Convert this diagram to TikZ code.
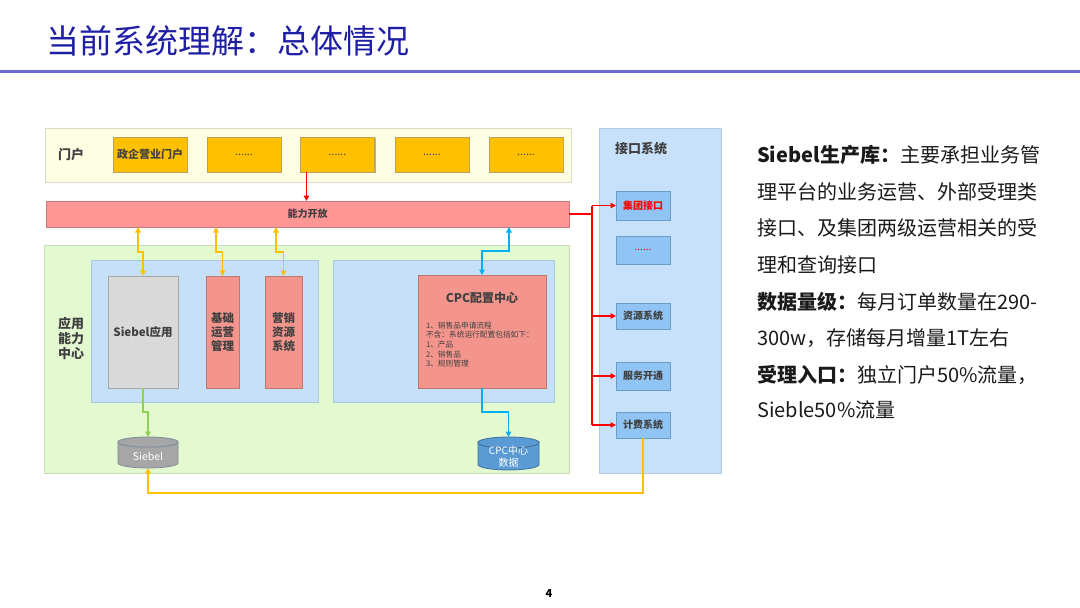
\documentclass[tikz,border=0pt]{standalone}
\usepackage{fontspec}
\setmainfont{Noto Sans CJK SC}
\usetikzlibrary{arrows.meta,shadows}
\definecolor{titleblue}{HTML}{1F1FA5}
\definecolor{ruleblue}{HTML}{6A6AD2}
\definecolor{portalbg}{HTML}{FEFEE2}
\definecolor{portalbd}{HTML}{DADAC8}
\definecolor{gold}{HTML}{FFC000}
\definecolor{goldbd}{HTML}{B8A060}
\definecolor{barfill}{HTML}{FF9696}
\definecolor{barbd}{HTML}{C87878}
\definecolor{ifbg}{HTML}{C8E1FA}
\definecolor{ifbd}{HTML}{AFCBE6}
\definecolor{ifbox}{HTML}{8FC4F4}
\definecolor{ifboxbd}{HTML}{6E9CC8}
\definecolor{appbg}{HTML}{E3F9CF}
\definecolor{appbd}{HTML}{C9DDB9}
\definecolor{innerbg}{HTML}{C6E0F8}
\definecolor{innerbd}{HTML}{AAC6E0}
\definecolor{grayfill}{HTML}{D9D9D9}
\definecolor{graybd}{HTML}{A6A6A6}
\definecolor{salmon}{HTML}{F4958D}
\definecolor{salmonbd}{HTML}{C07770}
\definecolor{txt}{HTML}{404040}
\definecolor{yline}{HTML}{FFC000}
\definecolor{bline}{HTML}{00B0F0}
\definecolor{gline}{HTML}{92D050}
\definecolor{rline}{HTML}{FF0000}
\definecolor{dbgray}{HTML}{A6A6A6}
\definecolor{dbgraybd}{HTML}{7F8C99}
\definecolor{dbblue}{HTML}{5B9BD5}
\definecolor{dbbluebd}{HTML}{41719C}
\definecolor{bodytxt}{HTML}{1A1A1A}
\tikzset{
  box/.style={inner sep=0pt, outer sep=0pt, align=center, text=txt},
  region/.style={box, line width=0.8pt},
  shad/.style={drop shadow={shadow xshift=1.2pt, shadow yshift=-1.2pt, opacity=0.3, fill=black}},
  goldbox/.style={box, shad, fill=gold, draw=goldbd, line width=0.6pt, minimum width=74pt, minimum height=35pt, font=\bfseries\fontsize{11}{13}\selectfont},
  dotsbox/.style={goldbox, font=\fontsize{10.5}{12}\selectfont},
  ifsub/.style={box, shad, fill=ifbox, draw=ifboxbd, line width=0.6pt, minimum width=54pt, font=\bfseries\fontsize{10}{12}\selectfont},
  appbox/.style={box, shad, line width=0.6pt, minimum height=112pt, font=\bfseries\fontsize{11.5}{14}\selectfont},
  lbl/.style={box, font=\bfseries\fontsize{13}{15}\selectfont},
  conn/.style={line width=1.5pt},
  yconn/.style={conn, draw=yline},
  bconn/.style={conn, draw=bline},
  gconn/.style={conn, draw=gline},
  rconn/.style={conn, draw=rline},
  dbtext/.style={box, text=white, font=\fontsize{10.5}{12}\selectfont},
  para/.style={anchor=west, inner sep=0pt, text=bodytxt, font=\fontsize{20}{24}\selectfont},
}
\begin{document}
\begin{tikzpicture}[x=1pt,y=-1pt, >={Triangle[length=5.5pt,width=5.5pt]}]
\useasboundingbox (0,0) rectangle (1080,608);
\fill[white] (0,0) rectangle (1080,608);

% title
\node[anchor=west, inner sep=0pt, text=titleblue, font=\fontsize{33}{36}\selectfont] (title) at (46,41) {当前系统理解：总体情况};
\draw[ruleblue, line width=3pt] (0,71) -- (1080,71);

% portal row
\node[region, fill=portalbg, draw=portalbd, minimum width=526pt, minimum height=54pt] (portal) at (308,155) {};
\node[lbl] (portallbl) at (71,155) {门户};
\node[goldbox] (p1) at (150,154.5) {政企营业门户};
\node[dotsbox] (p2) at (244,154.5) {......};
\node[dotsbox] (p3) at (337.5,154.5) {......};
\node[dotsbox] (p4) at (432,154.5) {......};
\node[dotsbox] (p5) at (526,154.5) {......};

% capability bar
\node[region, fill=barfill, draw=barbd, minimum width=523pt, minimum height=26pt, font=\bfseries\fontsize{10}{12}\selectfont] (bar) at (307.5,214) {能力开放};
\draw[rconn,->] ([xshift=6pt]p3.south west) -- ([xshift=6pt]p3.south west |- bar.north);

% interface column
\node[region, fill=ifbg, draw=ifbd, minimum width=122pt, minimum height=345pt] (iface) at (660,300.5) {};
\node[lbl, anchor=west] (ifacelbl) at (615,149) {接口系统};
\node[ifsub, minimum height=29pt, text=rline] (i1) at (643,205.5) {集团接口};
\node[ifsub, minimum height=28pt, text=rline, font=\fontsize{10}{12}\selectfont] (i2) at (643,250) {......};
\node[ifsub, minimum height=26pt] (i3) at (643,316) {资源系统};
\node[ifsub, minimum height=28pt] (i4) at (643,376) {服务开通};
\node[ifsub, minimum height=26pt] (i5) at (643,425) {计费系统};

\coordinate (rt) at (592,214);
\draw[rconn] (bar.east) -- (rt);
\draw[rconn] (i1.west -| rt) -- (i5.west -| rt);
\draw[rconn,->] (i1.west -| rt) -- (i1.west);
\draw[rconn,->] (i3.west -| rt) -- (i3.west);
\draw[rconn,->] (i4.west -| rt) -- (i4.west);
\draw[rconn,->] (i5.west -| rt) -- (i5.west);

% application capability center
\node[region, fill=appbg, draw=appbd, minimum width=525pt, minimum height=228pt] (app) at (306.5,359) {};
\node[lbl, align=center] (applbl) at (71,338) {应用\\能力\\中心};
\node[region, fill=innerbg, draw=innerbd, minimum width=227pt, minimum height=142pt] (inner1) at (204.5,331) {};
\node[region, fill=innerbg, draw=innerbd, minimum width=221pt, minimum height=142pt] (inner2) at (443.5,331) {};
\node[appbox, fill=grayfill, draw=graybd, minimum width=70pt] (siebelapp) at (143,332) {Siebel应用};
\node[appbox, fill=salmon, draw=salmonbd, minimum width=33pt] (jichu) at (222.5,332) {基础\\运营\\管理};
\node[appbox, fill=salmon, draw=salmonbd, minimum width=37pt] (yingxiao) at (283.5,332) {营销\\资源\\系统};
\node[box, shad, fill=salmon, draw=salmonbd, line width=0.6pt, minimum width=128pt, minimum height=113pt] (cpc) at (482,331.5) {};
\node[box, font=\bfseries\fontsize{12}{14}\selectfont] (cpctitle) at (482,298) {CPC配置中心};
\node[box, anchor=west, align=left, font=\fontsize{7.7}{9.7}\selectfont] (cpclist) at (426,344.5) {1、销售品申请流程\\不含：系统运行配置包括如下：\\1、产品\\2、销售品\\3、规则管理};

% databases
\path[fill=dbgray, draw=dbgraybd, line width=0.8pt] (118,442) -- (118,463) arc[start angle=180, end angle=0, x radius=30, y radius=5] -- (178,442) arc[start angle=0, end angle=180, x radius=30, y radius=5] -- cycle;
\draw[fill=dbgray, draw=dbgraybd, line width=0.8pt] (148,442) ellipse [x radius=30, y radius=5];
\node[inner sep=0pt, outer sep=0pt, minimum width=60pt, minimum height=31pt] (db1) at (148,452.5) {};
\node[dbtext] (db1t) at (148,456) {Siebel};

\path[fill=dbblue, draw=dbbluebd, line width=0.8pt] (478,442.5) -- (478,464.5) arc[start angle=180, end angle=0, x radius=30.5, y radius=5.5] -- (539,442.5) arc[start angle=0, end angle=180, x radius=30.5, y radius=5.5] -- cycle;
\draw[fill=dbblue, draw=dbbluebd, line width=0.8pt] (508.5,442.5) ellipse [x radius=30.5, y radius=5.5];
\node[inner sep=0pt, outer sep=0pt, minimum width=61pt, minimum height=33pt] (db2) at (508.5,453.5) {};
\node[dbtext, font=\fontsize{10}{11.5}\selectfont] (db2t) at (508.5,456.5) {CPC中心\\数据};

% connectors from bar to apps
\coordinate (j1) at (138,252);
\coordinate (j2) at (216,252);
\coordinate (j3) at (276,252);
\coordinate (j4) at (509,251);
\draw[yconn,<->] (j1 |- bar.south) -- (j1) -| (siebelapp.north);
\draw[yconn,<->] (j2 |- bar.south) -- (j2) -| (jichu.north);
\draw[yconn,<->] (j3 |- bar.south) -- (j3) -| (yingxiao.north);
\draw[bconn,<->] (j4 |- bar.south) -- (j4) -| (cpc.north);

% to databases
\coordinate (g1) at (143,412);
\coordinate (b2) at (482,412);
\draw[gconn,->] (siebelapp.south) -- (g1) -| (db1.north);
\draw[bconn,->] (cpc.south) -- (b2) -| (db2.north);
\coordinate (y5) at (643,493);
\draw[yconn,->] (i5.south) -- (y5) -| (db1.south);

% right text
\node[para] (t1) at (757,155) {{\bfseries Siebel生产库：}主要承担业务管};
\node[para] (t2) at (757,192) {理平台的业务运营、外部受理类};
\node[para] (t3) at (757,228) {接口、及集团两级运营相关的受};
\node[para] (t4) at (757,265) {理和查询接口};
\node[para] (t5) at (757,302) {{\bfseries 数据量级：}每月订单数量在290-};
\node[para] (t6) at (757,338) {300w，存储每月增量1T左右};
\node[para] (t7) at (757,375) {{\bfseries 受理入口：}独立门户50\%流量，};
\node[para] (t8) at (757,410) {Sieble50\%流量};

% page number
\node[inner sep=0pt, font=\bfseries\fontsize{11}{13}\selectfont] (pageno) at (549,594) {4};
\end{tikzpicture}
\end{document}
